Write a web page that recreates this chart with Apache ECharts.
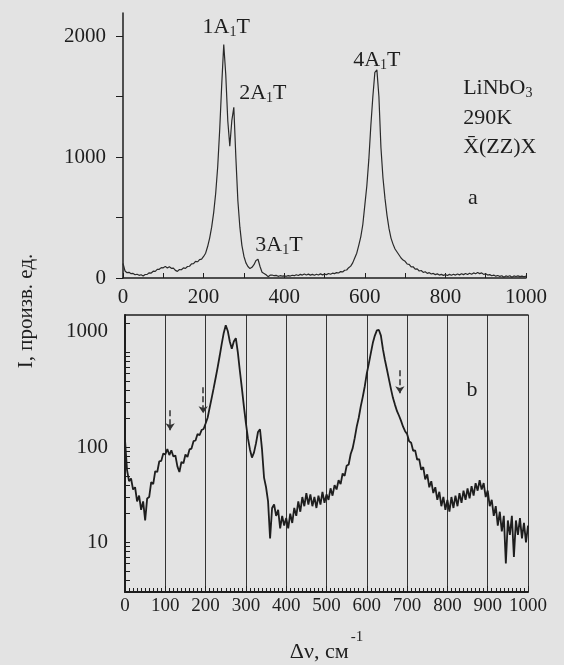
<!DOCTYPE html>
<html>
<head>
<meta charset="utf-8">
<script src="https://cdn.jsdelivr.net/npm/echarts@6/dist/echarts.min.js"></script>
<style>
  body { margin: 0; background: #e3e3e3; }
  #chart { width: 564px; height: 665px; }
</style>
</head>
<body>
<div id="chart"></div>
<script>
  var shiftStart = 0
  var shiftStep = 5
  var intensity = [
    120, 58, 44, 47, 36, 38, 27, 31, 22, 27, 17, 29, 30, 43, 41, 56, 55, 71, 72, 86,
    84, 96, 83, 93, 80, 82, 63, 55, 70, 68, 84, 79, 95, 97, 116, 118, 138, 134, 152, 156,
    178, 205, 260, 330, 420, 540, 700, 920, 1230, 1600, 1930, 1680, 1300, 1090, 1300, 1410, 1000, 640, 420, 270,
    180, 125, 95, 78, 88, 110, 145, 155, 95, 48, 38, 27, 11, 23, 25, 19, 22, 14, 19, 15,
    18, 14, 20, 16, 23, 19, 27, 21, 30, 24, 33, 25, 32, 24, 30, 23, 31, 25, 34, 26,
    32, 28, 37, 31, 40, 36, 45, 41, 53, 50, 64, 66, 85, 98, 125, 165, 205, 270, 340, 440,
    600, 760, 980, 1260, 1500, 1700, 1720, 1500, 1080, 830, 660, 520, 410, 330, 280, 240, 215, 190, 165, 148,
    138, 116, 112, 92, 93, 74, 75, 58, 62, 46, 52, 38, 44, 33, 38, 28, 34, 24, 30, 22,
    28, 21, 30, 23, 31, 24, 33, 26, 35, 28, 37, 29, 39, 31, 42, 35, 45, 36, 42, 30,
    35, 24, 28, 19, 24, 15, 21, 13, 19, 6, 17, 12, 19, 7, 17, 12, 18, 11, 16, 10, 15
  ]

  // подписи пиков (панель a), в координатах данных
  var peakNames = ['{t|1A}{s|1}{t|T}', '{t|2A}{s|1}{t|T}', '{t|3A}{s|1}{t|T}', '{t|4A}{s|1}{t|T}']
  var peakAt = [[256, 2074], [347, 1529], [387, 273], [630, 1802]]
  var noteNames = ['{t|LiNbO}{s|3}', '{t|290K}', '{t|X\u0304(ZZ)X}', '{t|a}']
  var noteAt = [[844, 1570], [844, 1322], [844, 1083], [856, 661]]

  // стрелки на панели b
  var arrows = [[112, 245, 151], [194, 428, 228], [682, 646, 370]]

  var xLabelsA = [0, 200, 400, 600, 800, 1000]
  var yLabelsA = [0, 1000, 2000]
  var yLabelsB = [10, 100, 1000]

  var spectrum = intensity.map(function (v, i) { return [shiftStart + i * shiftStep, v] })

  var logTicks = []
  ;[1, 10, 100, 1000].forEach(function (d) {
    for (var k = 1; k <= 9; k++) {
      var t = k * d
      if (t >= 4 && t <= 2000) logTicks.push(t)
    }
  })
  var hundredTicks = []
  for (var h = 0; h <= 1000; h += 100) hundredTicks.push(h)

  var ink = '#1e1e1e'
  var serif = '"Liberation Serif", "DejaVu Serif", serif'
  var plain = function (v) { return String(v) }
  var rich = {
    t: { fontSize: 22, fontFamily: serif, color: ink, opacity: 1, textBorderWidth: 0, textBorderColor: 'transparent' },
    s: { fontSize: 14, fontFamily: serif, color: ink, opacity: 1, textBorderWidth: 0, textBorderColor: 'transparent', padding: [10, 0, 0, 0] }
  }

  function labelItems(names, pos, align) {
    return names.map(function (n, i) {
      return { name: n, value: pos[i], label: { align: align } }
    })
  }

  var annoLabel = {
    show: true, position: [0, 0], verticalAlign: 'middle', formatter: '{b}', opacity: 1,
    color: ink, textBorderWidth: 0, textBorderColor: 'transparent', rich: rich
  }

  var myChart = echarts.init(document.getElementById('chart'))
  myChart.setOption({
    animation: false,
    backgroundColor: '#e3e3e3',
    textStyle: { fontFamily: serif, color: ink },
    grid: [
      { left: 123, top: 13, width: 403, height: 265, outerBoundsMode: 'none' },
      { left: 125, top: 315, width: 403, height: 277, outerBoundsMode: 'none' }
    ],
    xAxis: [
      {
        type: 'value', gridIndex: 0, min: 0, max: 1000,
        axisLine: { lineStyle: { color: ink, width: 1.5 } },
        axisTick: { inside: true, length: 5, customValues: hundredTicks, lineStyle: { color: ink } },
        axisLabel: { customValues: xLabelsA, margin: 9, fontSize: 21, color: ink, fontFamily: serif, formatter: plain },
        splitLine: { show: false }
      },
      {
        type: 'value', gridIndex: 1, min: 0, max: 1000, interval: 100,
        axisLine: { lineStyle: { color: ink, width: 2 } },
        axisTick: { inside: true, length: 6, lineStyle: { color: ink } },
        minorTick: { show: true, splitNumber: 10, length: 4, lineStyle: { color: ink } },
        axisLabel: { margin: 5, fontSize: 19, color: ink, fontFamily: serif, formatter: plain },
        splitLine: { show: true, lineStyle: { color: '#333', width: 1 } },
        name: '{m|\u0394\u03bd, см}{sup|-1}',
        nameLocation: 'middle',
        nameGap: 38,
        nameTextStyle: {
          rich: {
            m: { fontSize: 22, fontFamily: serif, color: ink },
            sup: { fontSize: 15, fontFamily: serif, color: ink, padding: [0, 0, 30, 2] }
          }
        }
      },
      {
        type: 'value', gridIndex: 1, position: 'top', min: 0, max: 1000,
        axisLine: { lineStyle: { color: ink, width: 1.5 } },
        axisTick: { show: false },
        axisLabel: { show: false },
        splitLine: { show: false }
      }
    ],
    yAxis: [
      {
        type: 'value', gridIndex: 0, min: 0, max: 2190,
        axisLine: { show: true, lineStyle: { color: ink, width: 1.5 } },
        axisTick: { show: true, length: 7, customValues: [0, 500, 1000, 1500, 2000], lineStyle: { color: ink } },
        axisLabel: { customValues: yLabelsA, margin: 17, fontSize: 21, color: ink, fontFamily: serif, formatter: plain },
        splitLine: { show: false }
      },
      {
        type: 'log', gridIndex: 1, min: 3, max: 2472, logBase: 10,
        axisLine: { show: true, lineStyle: { color: ink, width: 2 } },
        axisTick: { show: true, inside: true, length: 5, customValues: logTicks, lineStyle: { color: ink } },
        axisLabel: {
          customValues: yLabelsB, margin: 17, fontSize: 21, color: ink, fontFamily: serif,
          formatter: function (v) { return v >= 1000 ? '{up|1000}' : String(v) },
          rich: { up: { fontSize: 21, fontFamily: serif, color: ink, padding: [0, 0, 42, 0] } }
        },
        splitLine: { show: false }
      }
    ],
    graphic: [{
      type: 'text', x: 26, y: 311, rotation: Math.PI / 2,
      style: { text: 'I, произв. ед.', font: '21px "Liberation Serif"', fill: ink, align: 'center', verticalAlign: 'middle' }
    }],
    series: [
      {
        type: 'line', xAxisIndex: 0, yAxisIndex: 0, data: spectrum,
        showSymbol: false, lineStyle: { color: '#2a2a2a', width: 1.2 }
      },
      {
        type: 'line', xAxisIndex: 1, yAxisIndex: 1, data: spectrum,
        showSymbol: false, lineStyle: { color: '#1e1e1e', width: 1.8 },
        markLine: {
          silent: true, symbol: ['none', 'arrow'], symbolSize: 7,
          label: { show: false },
          lineStyle: { color: '#333', width: 1.5, type: 'dashed' },
          data: arrows.map(function (a) { return [{ coord: [a[0], a[1]] }, { coord: [a[0], a[2]] }] })
        }
      },
      {
        type: 'scatter', xAxisIndex: 0, yAxisIndex: 0, symbolSize: 0, silent: true,
        itemStyle: { color: ink, opacity: 1 },
        label: annoLabel,
        data: labelItems(peakNames, peakAt, 'center').concat(labelItems(noteNames, noteAt, 'left'))
      },
      {
        type: 'scatter', xAxisIndex: 1, yAxisIndex: 1, symbolSize: 0, silent: true,
        itemStyle: { color: ink, opacity: 1 },
        label: annoLabel,
        data: [{ name: '{t|b}', value: [861, 398], label: { align: 'center' } }]
      }
    ]
  })
</script>
</body>
</html>
